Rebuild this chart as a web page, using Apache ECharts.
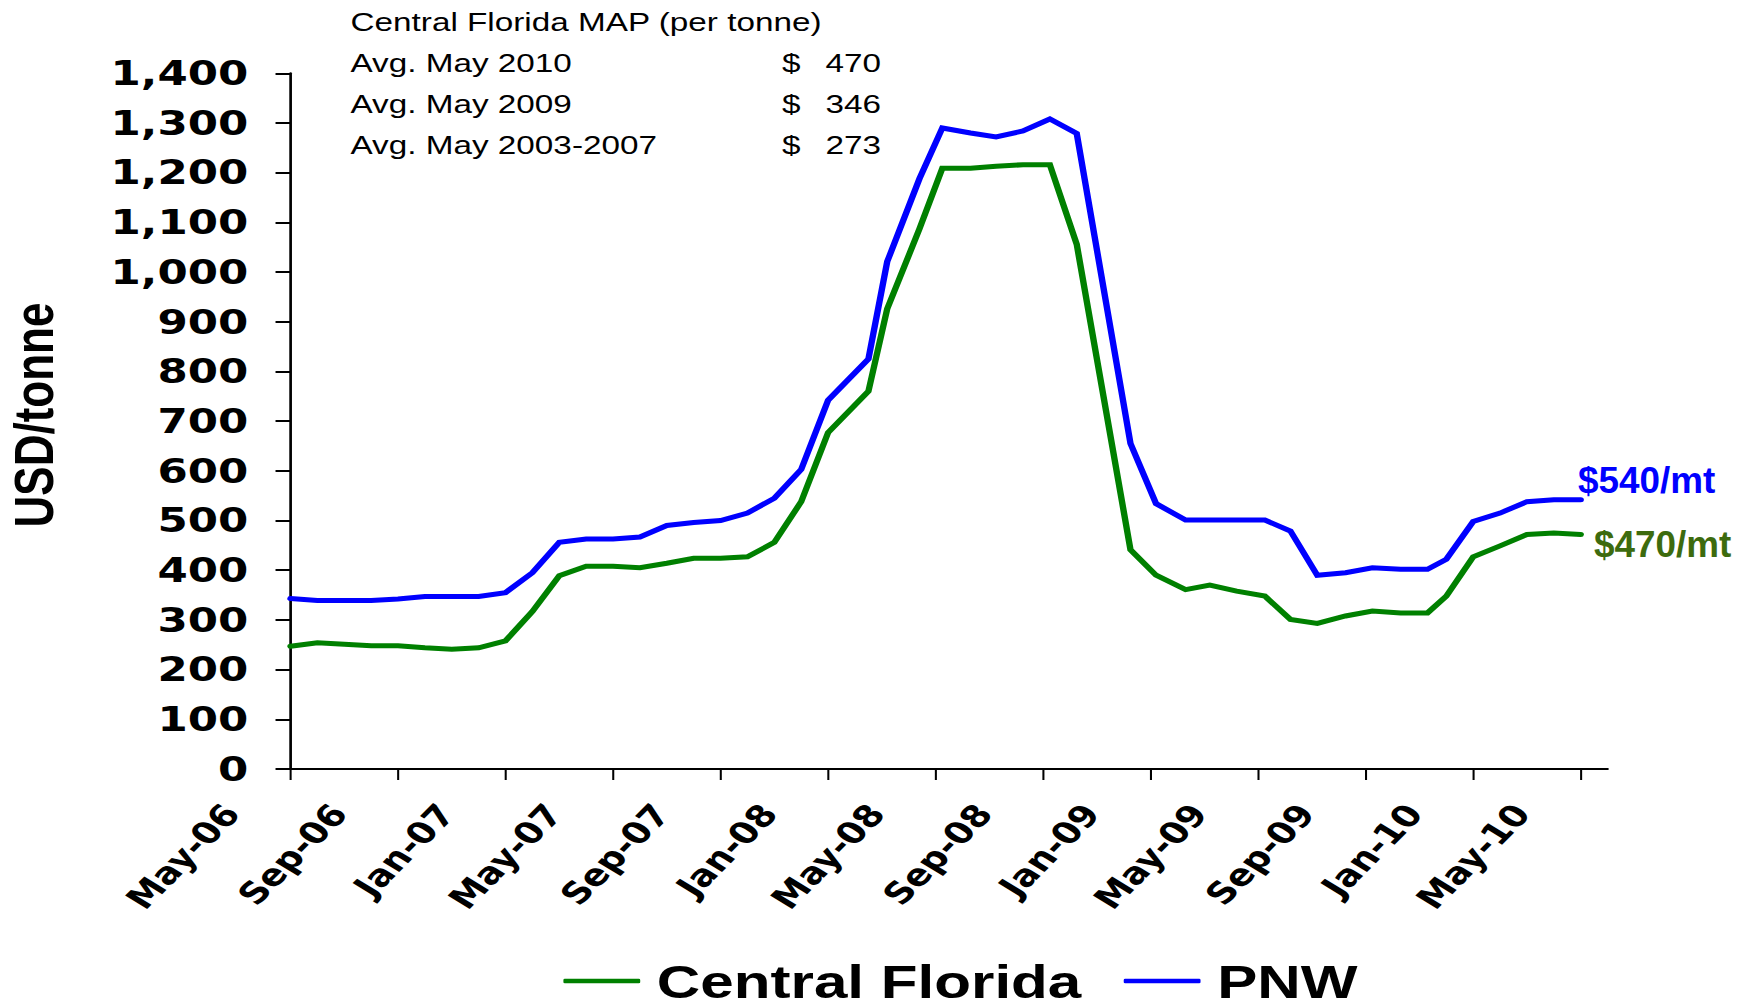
<!DOCTYPE html>
<html>
<head>
<meta charset="utf-8">
<script src="https://cdn.jsdelivr.net/npm/echarts@6/dist/echarts.min.js"></script>
<style>
html,body{margin:0;padding:0;background:#fff;}
#wrap{width:1745px;height:1008px;overflow:hidden;position:relative;background:#fff;}
#chart{width:1363px;height:1008px;transform:scaleX(1.28026);transform-origin:0 0;}
</style>
</head>
<body>
<div id="wrap"><div id="chart"></div></div>
<script>
// ---- data (x = months after May-06) ----
const tickLabels = ['May-06','Sep-06','Jan-07','May-07','Sep-07','Jan-08','May-08','Sep-08','Jan-09','May-09','Sep-09','Jan-10','May-10'];
const tickMonths = [0,4,8,12,16,20,24,28,32,36,40,44,48];
const yTicks = [0,100,200,300,400,500,600,700,800,900,1000,1100,1200,1300,1400];
const monthPos = [0,1,2,3,4,5,6,7,8,9,10,11,12,13,14,15,16,17,18,19,20,
  21.5,22.2,23.4,24.25,25.3,26.25,27.25,28.25,29.25,
  31.25,32.2,33.3,34.2,35.2,36.25,37.2,38.2,39.25,40.25,41.3,42.3,
  43,44,45,46,47,48];
const centralFlorida = [247,254,251,248,248,244,241,244,258,317,389,408,408,405,414,424,424,427,456,538,677,
  760,926,1087,1209,1209,1213,1216,1216,1056,
  441,390,361,370,358,348,301,293,308,318,314,314,
  348,427,449,472,475,472];
const pnw = [343,339,339,339,342,347,347,347,355,395,456,463,463,467,490,496,500,515,545,603,742,
  825,1021,1188,1290,1280,1272,1284,1308,1279,
  655,534,501,501,501,501,479,390,395,405,402,402,
  422,498,515,538,542,542];
const noteTitle = 'Central Florida MAP (per tonne)';
const noteLabels = ['Avg. May 2010','Avg. May 2009','Avg. May 2003-2007'];
const noteValues = [470, 346, 273];
const endLabels = ['$540/mt', '$470/mt'];

// ---- layout (pre-stretch coordinates; page is stretched horizontally by S) ----
const S = 1.28026;
const chart = echarts.init(document.getElementById('chart'), null, {renderer:'svg'});

const pair = (xs, ys) => xs.map((x, i) => [x, ys[i]]);
const noteFont = '26px "Liberation Sans", Arial, sans-serif';
const noteRowsY = [22, 63, 104, 145];
const graphics = [];
graphics.push({type:'text', x: 350.5/S, y: noteRowsY[0], style:{text: noteTitle, font: noteFont, fill:'#000', align:'left', textAlign:'left', verticalAlign:'middle', textVerticalAlign:'middle'}});
noteLabels.forEach((t, i) => {
  const y = noteRowsY[i+1];
  graphics.push({type:'text', x: 350.5/S, y, style:{text: t, font: noteFont, fill:'#000', align:'left', textAlign:'left', verticalAlign:'middle', textVerticalAlign:'middle'}});
  graphics.push({type:'text', x: 782/S, y, style:{text: '$', font: noteFont, fill:'#000', align:'left', textAlign:'left', verticalAlign:'middle', textVerticalAlign:'middle'}});
  graphics.push({type:'text', x: 881/S, y, style:{text: String(noteValues[i]), font: noteFont, fill:'#000', align:'right', textAlign:'right', verticalAlign:'middle', textVerticalAlign:'middle'}});
});
graphics.push({type:'text', x: 1578/S, y: 481, scaleX: 0.8, style:{text: endLabels[0], font:'bold 36px "Liberation Sans", Arial, sans-serif', fill:'#0000FF', align:'left', textAlign:'left', verticalAlign:'middle', textVerticalAlign:'middle'}});
graphics.push({type:'text', x: 1594/S, y: 545, scaleX: 0.8, style:{text: endLabels[1], font:'bold 36px "Liberation Sans", Arial, sans-serif', fill:'#3D6B0E', align:'left', textAlign:'left', verticalAlign:'middle', textVerticalAlign:'middle'}});
graphics.push({type:'text', x: 26, y: 415, rotation: Math.PI/2, style:{text:'USD/tonne', font:'bold 44px "Liberation Sans", Arial, sans-serif', fill:'#000', align:'center', textAlign:'center', verticalAlign:'middle', textVerticalAlign:'middle'}});

const option = {
  backgroundColor: '#fff',
  animation: false,
  grid: {left: 290.5/S, right: 1363 - 1607.6/S, top: 73.3, bottom: 1008 - 769, containLabel: false, outerBoundsMode: 'none'},
  legend: {
    data: ['Central Florida', 'PNW'],
    left: 557/S, top: 951,
    icon: 'roundRect', itemWidth: 60, itemHeight: 4.5, itemGap: 33,
    textStyle: {fontFamily: '"Liberation Sans", Arial, sans-serif', fontWeight: 'bold', fontSize: 47, lineHeight: 42, color: '#000', padding: [0,0,8,8]}
  },
  xAxis: {
    type: 'value', min: 0, max: 49,
    splitLine: {show: false},
    axisLine: {show: true, onZero: false, lineStyle: {color: '#000', width: 2}},
    axisTick: {show: true, customValues: tickMonths, length: 11, lineStyle: {color: '#000', width: 1.6}},
    axisLabel: {
      customValues: tickMonths, rotate: 52, margin: -20, padding: [0, 75, 0, 0],
      fontFamily: '"DejaVu Sans", sans-serif', fontWeight: 'bold', fontSize: 30, color: '#000',
      formatter: v => tickLabels[tickMonths.indexOf(Math.round(v))] || ''
    }
  },
  yAxis: {
    type: 'value', min: 0, max: 1400, interval: 100,
    splitLine: {show: false},
    axisLine: {show: true, lineStyle: {color: '#000', width: 2.1}},
    axisTick: {show: true, length: 11.7, lineStyle: {color: '#000', width: 2}},
    axisLabel: {
      margin: 33, fontFamily: '"DejaVu Sans", sans-serif', fontWeight: 'bold', fontSize: 34, color: '#000',
      formatter: v => yTicks.includes(v) ? v.toLocaleString('en-US') : ''
    }
  },
  graphic: graphics,
  series: [
    {name: 'Central Florida', type: 'line', data: pair(monthPos, centralFlorida), symbol: 'none',
     lineStyle: {color: '#008000', width: 5, cap: 'round', join: 'miter'}, itemStyle: {color: '#008000'}},
    {name: 'PNW', type: 'line', data: pair(monthPos, pnw), symbol: 'none',
     lineStyle: {color: '#0000FF', width: 5, cap: 'round', join: 'miter'}, itemStyle: {color: '#0000FF'}}
  ]
};
chart.setOption(option);
</script>
</body>
</html>
